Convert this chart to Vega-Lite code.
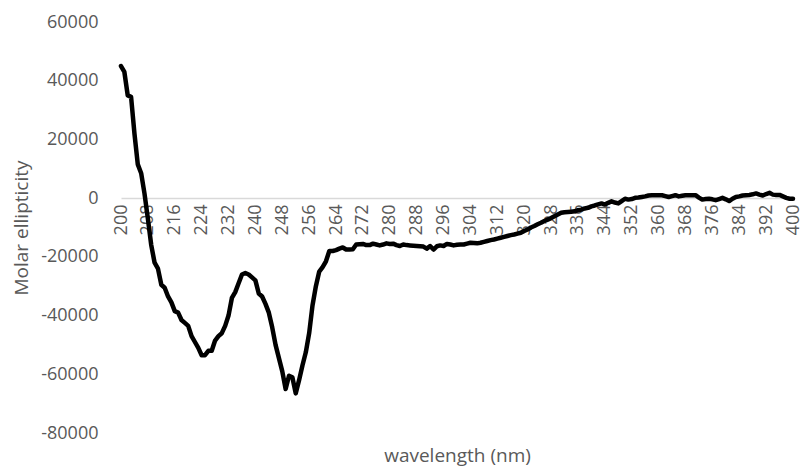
{
  "$schema": "https://vega.github.io/schema/vega-lite/v6.json",
  "width": 672,
  "height": 411,
  "autosize": "none",
  "padding": {"left": 121, "top": 22, "right": 13, "bottom": 34},
  "background": "white",
  "config": {"view": {"stroke": null}, "font": "Open Sans"},
  "data": {"values": [
    {"nm":200,"v":45000},{"nm":201,"v":43000},{"nm":202,"v":35000},{"nm":203,"v":34500},{"nm":204,"v":22000},
    {"nm":205,"v":11500},{"nm":206,"v":8500},{"nm":207,"v":1500},{"nm":208,"v":-7000},{"nm":209,"v":-16000},
    {"nm":210,"v":-22000},{"nm":211,"v":-24000},{"nm":212,"v":-29500},{"nm":213,"v":-30500},{"nm":214,"v":-33500},
    {"nm":215,"v":-35500},{"nm":216,"v":-38500},{"nm":217,"v":-39000},{"nm":218,"v":-41500},{"nm":219,"v":-42500},
    {"nm":220,"v":-43500},{"nm":221,"v":-47000},{"nm":222,"v":-49000},{"nm":223,"v":-51000},{"nm":224,"v":-53500},
    {"nm":225,"v":-53500},{"nm":226,"v":-52000},{"nm":227,"v":-52000},{"nm":228,"v":-48500},{"nm":229,"v":-47000},
    {"nm":230,"v":-46000},{"nm":231,"v":-43500},{"nm":232,"v":-40000},{"nm":233,"v":-34000},{"nm":234,"v":-32000},
    {"nm":235,"v":-29000},{"nm":236,"v":-26000},{"nm":237,"v":-25500},{"nm":238,"v":-26000},{"nm":239,"v":-27000},
    {"nm":240,"v":-28000},{"nm":241,"v":-32500},{"nm":242,"v":-33500},{"nm":243,"v":-36000},{"nm":244,"v":-39000},
    {"nm":245,"v":-44000},{"nm":246,"v":-50000},{"nm":247,"v":-54500},{"nm":248,"v":-59000},{"nm":249,"v":-65000},
    {"nm":250,"v":-60500},{"nm":251,"v":-61000},{"nm":252,"v":-66500},{"nm":253,"v":-62000},{"nm":254,"v":-57000},
    {"nm":255,"v":-52500},{"nm":256,"v":-46000},{"nm":257,"v":-36500},{"nm":258,"v":-30000},{"nm":259,"v":-25000},
    {"nm":260,"v":-23500},{"nm":261,"v":-21500},{"nm":262,"v":-18000},{"nm":263,"v":-18000},{"nm":264,"v":-17700},
    {"nm":265,"v":-17200},{"nm":266,"v":-16800},{"nm":267,"v":-17500},{"nm":268,"v":-17500},{"nm":269,"v":-17400},
    {"nm":270,"v":-15800},{"nm":271,"v":-15700},{"nm":272,"v":-15600},{"nm":273,"v":-16000},{"nm":274,"v":-16000},
    {"nm":275,"v":-15500},{"nm":276,"v":-15800},{"nm":277,"v":-16100},{"nm":278,"v":-15800},{"nm":279,"v":-15400},
    {"nm":280,"v":-15600},{"nm":281,"v":-15500},{"nm":282,"v":-16000},{"nm":283,"v":-16300},{"nm":284,"v":-15800},
    {"nm":285,"v":-16000},{"nm":286,"v":-16100},{"nm":287,"v":-16200},{"nm":288,"v":-16300},{"nm":289,"v":-16400},
    {"nm":290,"v":-16500},{"nm":291,"v":-17200},{"nm":292,"v":-16300},{"nm":293,"v":-17500},{"nm":294,"v":-16400},
    {"nm":295,"v":-16100},{"nm":296,"v":-16300},{"nm":297,"v":-15600},{"nm":298,"v":-15800},{"nm":299,"v":-16100},
    {"nm":300,"v":-15900},{"nm":301,"v":-15800},{"nm":302,"v":-15800},{"nm":303,"v":-15500},{"nm":304,"v":-15200},
    {"nm":305,"v":-15300},{"nm":306,"v":-15400},{"nm":307,"v":-15200},{"nm":308,"v":-14900},{"nm":309,"v":-14600},
    {"nm":310,"v":-14300},{"nm":311,"v":-14100},{"nm":312,"v":-13800},{"nm":313,"v":-13500},{"nm":314,"v":-13200},
    {"nm":315,"v":-12900},{"nm":316,"v":-12600},{"nm":317,"v":-12400},{"nm":318,"v":-12100},{"nm":319,"v":-11800},
    {"nm":320,"v":-11200},{"nm":321,"v":-10700},{"nm":322,"v":-10000},{"nm":323,"v":-9500},{"nm":324,"v":-8900},
    {"nm":325,"v":-8400},{"nm":326,"v":-7800},{"nm":327,"v":-7300},{"nm":328,"v":-6800},{"nm":329,"v":-6200},
    {"nm":330,"v":-5600},{"nm":331,"v":-5000},{"nm":332,"v":-4800},{"nm":333,"v":-4700},{"nm":334,"v":-4600},
    {"nm":335,"v":-4500},{"nm":336,"v":-4100},{"nm":337,"v":-3900},{"nm":338,"v":-3500},{"nm":339,"v":-3300},
    {"nm":340,"v":-2800},{"nm":341,"v":-2500},{"nm":342,"v":-2100},{"nm":343,"v":-1800},{"nm":344,"v":-2200},
    {"nm":345,"v":-1600},{"nm":346,"v":-1100},{"nm":347,"v":-1500},{"nm":348,"v":-1800},{"nm":349,"v":-1000},
    {"nm":350,"v":-200},{"nm":351,"v":-500},{"nm":352,"v":-300},{"nm":353,"v":100},{"nm":354,"v":200},
    {"nm":355,"v":400},{"nm":356,"v":600},{"nm":357,"v":900},{"nm":358,"v":1000},{"nm":359,"v":1000},
    {"nm":360,"v":1000},{"nm":361,"v":1000},{"nm":362,"v":700},{"nm":363,"v":400},{"nm":364,"v":700},
    {"nm":365,"v":1000},{"nm":366,"v":600},{"nm":367,"v":800},{"nm":368,"v":1000},{"nm":369,"v":1000},
    {"nm":370,"v":1000},{"nm":371,"v":1000},{"nm":372,"v":200},{"nm":373,"v":-500},{"nm":374,"v":-300},
    {"nm":375,"v":-200},{"nm":376,"v":-400},{"nm":377,"v":-700},{"nm":378,"v":-300},{"nm":379,"v":100},
    {"nm":380,"v":-400},{"nm":381,"v":-1000},{"nm":382,"v":-200},{"nm":383,"v":400},{"nm":384,"v":600},
    {"nm":385,"v":900},{"nm":386,"v":1000},{"nm":387,"v":1100},{"nm":388,"v":1300},{"nm":389,"v":1600},
    {"nm":390,"v":1200},{"nm":391,"v":900},{"nm":392,"v":1400},{"nm":393,"v":1800},{"nm":394,"v":1200},
    {"nm":395,"v":1100},{"nm":396,"v":1100},{"nm":397,"v":600},{"nm":398,"v":100},{"nm":399,"v":-200},
    {"nm":400,"v":-200}
  ]},
  "mark": {"type": "line", "color": "black", "strokeWidth": 4.5, "strokeJoin": "round", "strokeCap": "round"},
  "encoding": {
    "x": {
      "field": "nm", "type": "quantitative",
      "scale": {"domain": [200, 400], "nice": false, "zero": false},
      "axis": {
        "title": "wavelength (nm)",
        "values": [200,208,216,224,232,240,248,256,264,272,280,288,296,304,312,320,328,336,344,352,360,368,376,384,392,400],
        "labelAngle": -90, "labelAlign": "right", "labelBaseline": "middle",
        "labelFontSize": 18, "labelColor": "#595959", "labelPadding": 6, "labelFont": "Open Sans",
        "labelOverlap": false, "labelFlush": false,
        "ticks": false, "grid": false,
        "domain": true, "domainColor": "#d9d9d9", "domainWidth": 1.5,
        "offset": -235,
        "titleFontSize": 19, "titleFontWeight": "normal", "titleColor": "#595959", "titleFont": "Open Sans",
        "titleY": 257, "titleBaseline": "middle"
      }
    },
    "y": {
      "field": "v", "type": "quantitative",
      "scale": {"domain": [-80000, 60000], "nice": false},
      "axis": {
        "title": "Molar ellipticity",
        "values": [-80000,-60000,-40000,-20000,0,20000,40000,60000],
        "labelExpr": "'' + datum.value",
        "labelFontSize": 18, "labelColor": "#595959", "labelPadding": 23, "labelFont": "Open Sans",
        "ticks": false, "grid": false, "domain": false,
        "titleFontSize": 19, "titleFontWeight": "normal", "titleColor": "#595959", "titleFont": "Open Sans",
        "titleX": -100, "titleBaseline": "middle"
      }
    }
  }
}
